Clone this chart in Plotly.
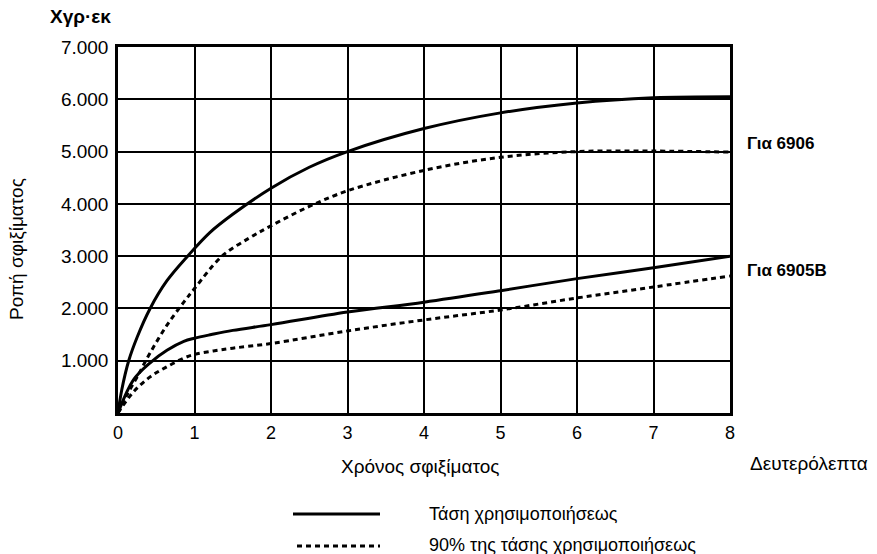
import plotly.graph_objects as go

# Data (seconds, torque)
x_6906 = [0, 0.05, 0.14, 0.25, 0.42, 0.64, 0.91, 1.2, 1.5, 2, 2.5, 3, 4, 5, 6, 7, 8]
y_6906 = [0, 450, 1000, 1450, 2000, 2530, 3000, 3450, 3800, 4300, 4700, 5000, 5440, 5740, 5930, 6030, 6050]

x_6906_90 = [0, 0.1, 0.25, 0.42, 0.64, 0.86, 1.0, 1.36, 1.72, 2, 2.5, 3, 4, 5, 6, 7, 8]
y_6906_90 = [0, 300, 690, 1150, 1680, 2120, 2380, 3000, 3350, 3580, 3950, 4250, 4640, 4890, 5000, 5010, 4990]

x_6905 = [0, 0.2, 0.42, 0.64, 0.86, 1.0, 1.22, 1.5, 2, 3, 4, 5, 6, 7, 8]
y_6905 = [0, 630, 960, 1200, 1370, 1430, 1500, 1580, 1690, 1930, 2120, 2340, 2570, 2780, 3000]

x_6905_90 = [0, 0.2, 0.42, 0.64, 0.86, 1.0, 1.22, 1.5, 2, 3, 4, 5, 6, 7, 8]
y_6905_90 = [0, 400, 690, 885, 1050, 1120, 1180, 1240, 1330, 1570, 1780, 1970, 2200, 2410, 2620]

y_tickvals = [1000, 2000, 3000, 4000, 5000, 6000, 7000]
y_ticktext = ["1.000", "2.000", "3.000", "4.000", "5.000", "6.000", "7.000"]
x_tickvals = [0, 1, 2, 3, 4, 5, 6, 7, 8]

FONT = "Liberation Sans, Arial, sans-serif"
solid = dict(color="black", width=3, shape="spline", smoothing=1.0)
dashed = dict(color="black", width=3, dash="5px,4px", shape="spline", smoothing=1.0)

W, H = 877, 554
L, R, T, B = 118, 147, 47, 141

fig = go.Figure()
fig.add_trace(go.Scatter(x=x_6906, y=y_6906, mode="lines", line=solid, showlegend=False))
fig.add_trace(go.Scatter(x=x_6906_90, y=y_6906_90, mode="lines", line=dashed, showlegend=False))
fig.add_trace(go.Scatter(x=x_6905, y=y_6905, mode="lines", line=solid, showlegend=False))
fig.add_trace(go.Scatter(x=x_6905_90, y=y_6905_90, mode="lines", line=dashed, showlegend=False))

fig.update_layout(
    width=W, height=H,
    margin=dict(l=L, r=R, t=T, b=B, autoexpand=False),
    paper_bgcolor="white", plot_bgcolor="white",
    font=dict(family=FONT, color="black"),
    xaxis=dict(range=[0, 8], tickvals=x_tickvals, showgrid=True, gridcolor="black", gridwidth=1.5,
               showline=True, linecolor="black", linewidth=2.5, mirror=True, zeroline=False,
               ticks="", tickfont=dict(size=18, family=FONT), ticklabelstandoff=2),
    yaxis=dict(range=[0, 7000], tickvals=y_tickvals, ticktext=y_ticktext, showgrid=True,
               gridcolor="black", gridwidth=1.5, showline=True, linecolor="black", linewidth=2.5,
               mirror=True, zeroline=False, ticks="", tickfont=dict(size=19, family=FONT),
               ticklabelstandoff=3),
)


def px(xp, yp):
    # convert figure pixels to paper coordinates (relative to plot area)
    pw, ph = W - L - R, H - T - B
    return (xp - L) / pw, (H - B - yp) / ph


ann = [
    dict(text="<b>Χγρ·εκ</b>", x=48, y=17, xanchor="left", font=dict(size=19)),
    dict(text="Ροπή σφιξίματος", x=17, y=249, textangle=-90, xanchor="center", font=dict(size=19)),
    dict(text="Χρόνος σφιξίματος", x=420, y=466, xanchor="center", font=dict(size=19)),
    dict(text="Δευτερόλεπτα", x=748, y=463, xanchor="left", font=dict(size=19)),
    dict(text="<b>Για 6906</b>", x=745, y=143, xanchor="left", font=dict(size=17)),
    dict(text="<b>Για 6905B</b>", x=745, y=270, xanchor="left", font=dict(size=17)),
    dict(text="Τάση χρησιμοποιήσεως", x=427, y=514, xanchor="left", font=dict(size=18)),
    dict(text="90% της τάσης χρησιμοποιήσεως", x=427, y=545, xanchor="left", font=dict(size=18)),
]
for a in ann:
    ax, ay = px(a["x"], a["y"])
    fig.add_annotation(text=a["text"], x=ax, y=ay, xref="paper", yref="paper",
                       xanchor=a["xanchor"], yanchor="middle", showarrow=False,
                       textangle=a.get("textangle", 0),
                       font=dict(family=FONT, color="black", **a["font"]))

x0, y0 = px(293, 514); x1, _ = px(380, 514)
fig.add_shape(type="line", xref="paper", yref="paper", x0=x0, x1=x1, y0=y0, y1=y0,
              line=dict(color="black", width=3))
x0, y0 = px(297, 546); x1, _ = px(380, 546)
fig.add_shape(type="line", xref="paper", yref="paper", x0=x0, x1=x1, y0=y0, y1=y0,
              line=dict(color="black", width=3, dash="5px,4px"))

fig.write_html("out.html", config={"displayModeBar": False},
               post_script="document.body.style.margin='0';document.body.style.overflow='hidden';")
